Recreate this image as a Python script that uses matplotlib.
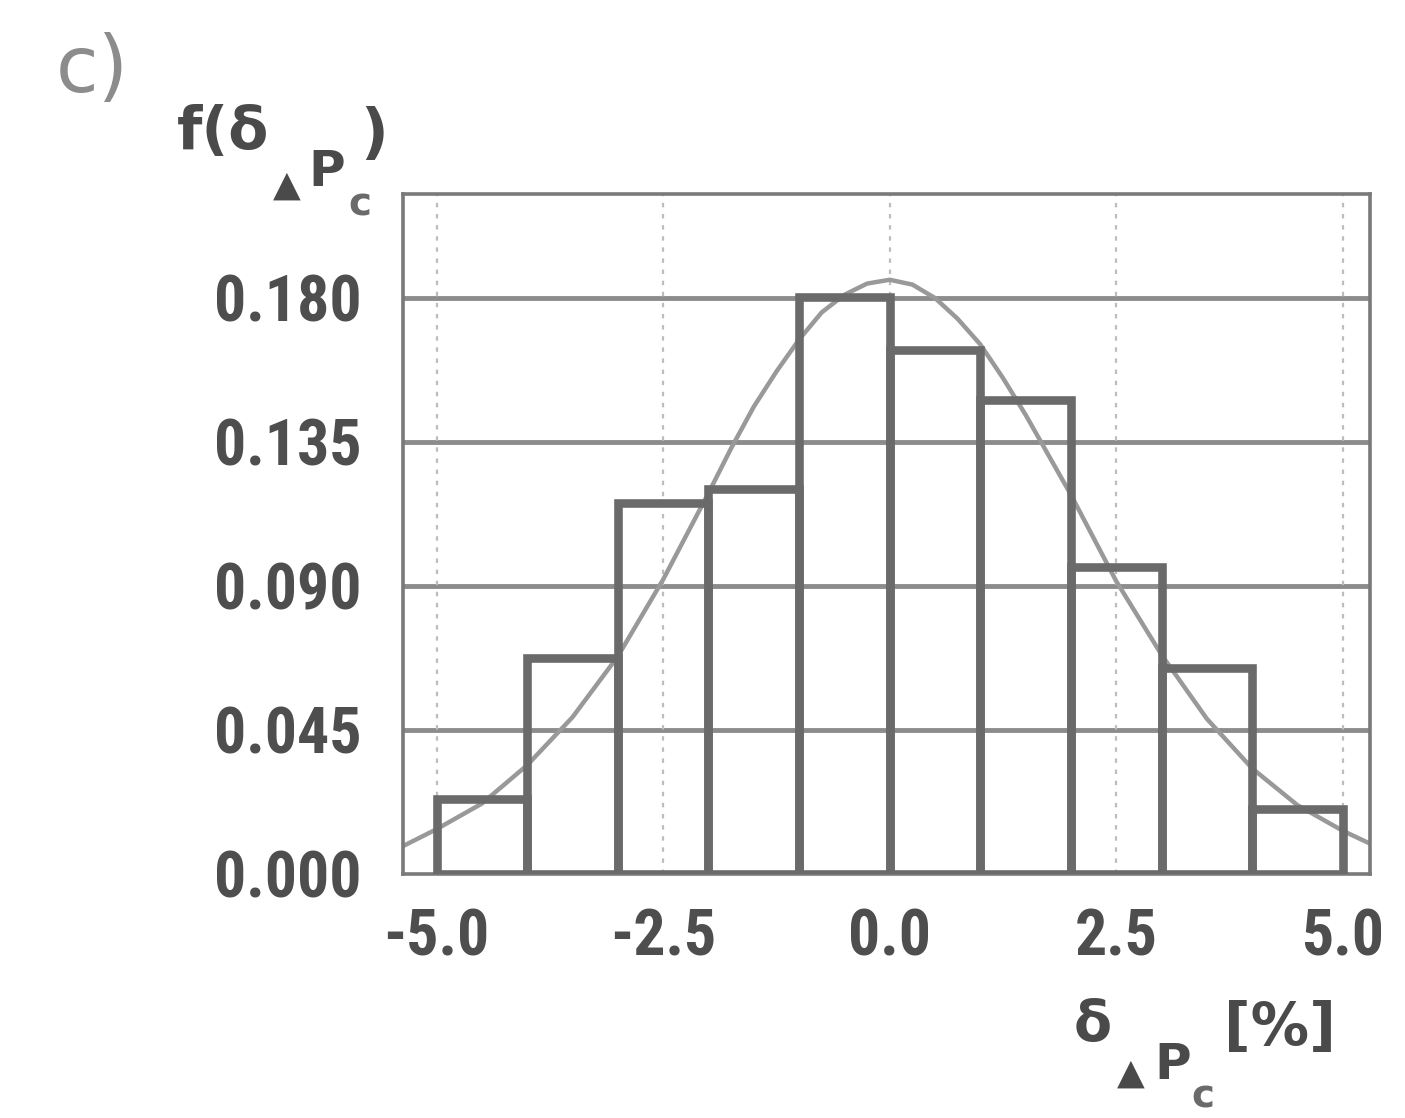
import matplotlib
matplotlib.use("Agg")
from matplotlib import pyplot as plt
import numpy as np

# histogram of delta_dPc (bins of 1 %)
bin_left = [-5.0, -4.0, -3.0, -2.0, -1.0, 0.0, 1.0, 2.0, 3.0, 4.0]
bar_heights = [0.0235, 0.0674, 0.1160, 0.1204, 0.1803, 0.1637, 0.1480, 0.0960, 0.0643, 0.0204]

# fitted density curve
curve_x = [-5.35, -5.0, -4.5, -4.0, -3.5, -3.0, -2.5, -2.0, -1.75, -1.5, -1.25, -1.0, -0.75, -0.5,
           -0.25, 0.0, 0.25, 0.5, 0.75, 1.0, 1.25, 1.5, 1.75, 2.0, 2.5, 3.0, 3.5, 4.0, 4.5, 5.0, 5.3]
curve_y = [0.009, 0.014, 0.022, 0.034, 0.049, 0.068, 0.092, 0.119, 0.133, 0.146, 0.157, 0.167,
           0.1755, 0.181, 0.1845, 0.1857, 0.1842, 0.1800, 0.1735, 0.1655, 0.155, 0.1435, 0.131,
           0.1185, 0.0915, 0.0685, 0.0485, 0.0330, 0.0215, 0.0135, 0.0095]

x_ticks = [-5.0, -2.5, 0.0, 2.5, 5.0]
x_ticklabels = ["-5.0", "-2.5", "0.0", "2.5", "5.0"]
y_ticks = [0.0, 0.045, 0.090, 0.135, 0.180]
y_ticklabels = ["0.000", "0.045", "0.090", "0.135", "0.180"]

FONTS = ["Roboto Condensed", "DejaVu Sans Condensed", "Liberation Sans", "DejaVu Sans"]
plt.rcParams["font.family"] = FONTS

W, H = 1405, 1118
fig = plt.figure(figsize=(W / 100, H / 100), dpi=100)
fig.patch.set_facecolor("white")

# axes box in pixel coords of the reference
left, right, top, bottom = 403, 1370, 194, 874
ax = fig.add_axes([left / W, 1 - bottom / H, (right - left) / W, (bottom - top) / H])

# grid: solid horizontal lines, faint dotted verticals
for y in y_ticks[1:]:
    ax.axhline(y, color="#8c8c8c", lw=3.5, zorder=1)
for x in x_ticks:
    ax.axvline(x, color="#bdbdbd", lw=1.6, ls=(0, (2, 3)), zorder=1)

# density curve
ax.plot(curve_x, curve_y, color="#999999", lw=3.2, zorder=2)

# histogram bars (outline only)
ax.bar(bin_left, bar_heights, width=1.0, align="edge", fill=False,
       edgecolor="#6a6a6a", linewidth=6.2, zorder=3)

ax.set_xlim(-5.37, 5.30)
ax.set_ylim(0, 0.2125)

ax.set_xticks(x_ticks)
ax.set_xticklabels(x_ticklabels)
ax.set_yticks(y_ticks)
ax.set_yticklabels(y_ticklabels)
ax.tick_params(length=0, labelsize=46, colors="#4e4e4e")
ax.tick_params(axis="y", pad=30)
ax.tick_params(axis="x", pad=24)
for lab in ax.get_xticklabels() + ax.get_yticklabels():
    lab.set_fontweight("bold")

for sp in ax.spines.values():
    sp.set_color("#7a7a7a")
    sp.set_linewidth(2.6)


def put(x, y, s, size, color="#4a4a4a", weight="bold", family=FONTS):
    # place text by its centre, given in pixels of the reference
    fig.text(x / W, 1 - y / H, s, fontsize=size, color=color, fontweight=weight,
             ha="center", va="center", family=family)


# panel tag
put(92, 70, "c)", 56, color="#8c8c8c", weight="normal", family=["DejaVu Sans"])

# y label  f(δ_▲Pc)
put(223, 132, "f(δ", 42, family=["DejaVu Sans"])
put(287, 186, "▲", 26, family=["DejaVu Sans"])
put(327, 172, "P", 36, family=["DejaVu Sans"])
put(360, 205, "c", 28, color="#6a6a6a", family=["DejaVu Sans"])
put(374, 135, ")", 44, family=["DejaVu Sans"])

# x label  δ_▲Pc [%]
put(1093, 1026, "δ", 40, family=["DejaVu Sans"])
put(1131, 1074, "▲", 26, family=["DejaVu Sans"])
put(1173, 1065, "P", 36, family=["DejaVu Sans"])
put(1203, 1097, "c", 28, color="#6a6a6a", family=["DejaVu Sans"])
put(1280, 1029, "[%]", 42, family=["DejaVu Sans"])

fig.savefig("out.png", dpi=100)
